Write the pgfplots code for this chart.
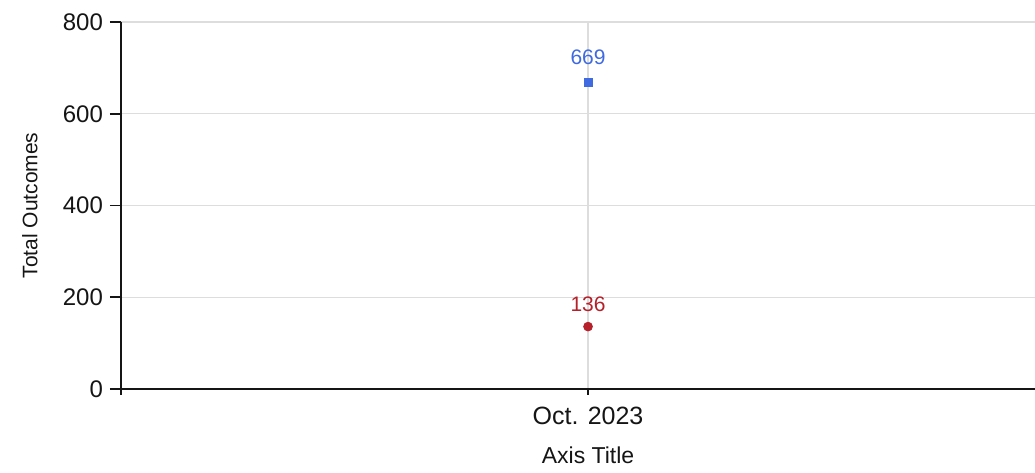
\documentclass[border=0pt]{standalone}
\usepackage{pgfplots}
\pgfplotsset{compat=1.18}
\usepackage{fontspec}
\setmainfont{Liberation Sans}
\definecolor{ptblue}{HTML}{3F6AE0}
\definecolor{ptred}{HTML}{B5202A}
\definecolor{gridgray}{HTML}{DDDDDD}
\definecolor{axisdark}{HTML}{151515}
\begin{document}
\begin{tikzpicture}
\begin{axis}[
  scale only axis, width=457pt, height=183.5pt,
  xmin=-1, xmax=0.957, ymin=0, ymax=800,
  axis lines=left, axis line style={-, axisdark, line width=0.8pt},
  xtick={-1,0}, xticklabels={,Oct. 2023},
  ytick={0,200,...,800},
  tick align=outside, major tick length=5.5pt,
  tick style={axisdark, line width=0.8pt},
  x tick style={/pgfplots/major tick length=3pt},
  grid=major, grid style={gridgray, line width=0.6pt},
  /pgf/number format/assume math mode=true,
  tick label style={font=\fontsize{12}{14}\selectfont, text=axisdark},
  xticklabel style={font=\fontsize{12.5}{14}\selectfont},
  yticklabel style={anchor=east},
  xlabel={Axis Title}, ylabel={Total Outcomes},
  every axis x label/.style={at={(axis description cs:0.511,-0.181)}, anchor=center, font=\fontsize{11.5}{13}\selectfont, text=axisdark},
  every axis y label/.style={at={(axis description cs:-0.0996,0.5)}, anchor=center, rotate=90, font=\fontsize{10.5}{12}\selectfont, text=axisdark},
  clip=false,
]
\addplot[only marks, mark=square*, mark size=2pt, color=ptblue,
  nodes near coords, nodes near coords style={font=\fontsize{10.5}{12}\selectfont, text=ptblue, anchor=south, yshift=5pt}]
  coordinates {(0,669)};
\addplot[only marks, mark=*, mark size=2.2pt, color=ptred,
  nodes near coords, nodes near coords style={font=\fontsize{10.5}{12}\selectfont, text=ptred, anchor=south, yshift=4pt}]
  coordinates {(0,136)};
\coordinate (bl) at (rel axis cs:0,0);
\coordinate (tr) at (rel axis cs:1,1);
\end{axis}
\pgfresetboundingbox
\path ([xshift=-60.5pt,yshift=-42pt]bl) rectangle ([yshift=11pt]tr);
\end{tikzpicture}
\end{document}
